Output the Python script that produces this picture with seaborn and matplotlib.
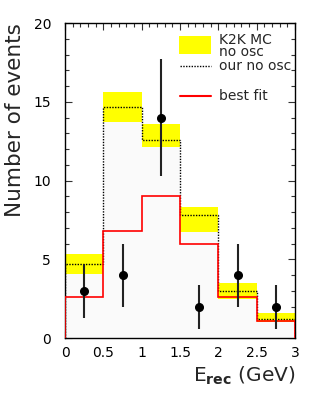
import numpy as np
import pandas as pd
import matplotlib
matplotlib.use("Agg")
import matplotlib.pyplot as plt
import seaborn as sns
from matplotlib.patches import Rectangle
from matplotlib.ticker import MultipleLocator

# ---- data ----
bin_edges = [0.0, 0.5, 1.0, 1.5, 2.0, 2.5, 3.0]
k2k_low = [4.08, 13.73, 12.13, 6.75, 2.50, 1.04]
k2k_high = [5.31, 15.60, 13.60, 8.32, 3.51, 1.59]
our_no_osc = [4.70, 14.65, 12.60, 7.81, 3.00, 1.23]
best_fit = [2.58, 6.79, 9.03, 5.99, 2.58, 1.06]
data_counts = [3, 4, 14, 2, 4, 2]
err_low = [1.73, 2.01, 3.70, 1.41, 2.00, 1.41]
err_high = [1.68, 1.99, 3.70, 1.37, 2.00, 1.37]
x_ticks = [0, 0.5, 1, 1.5, 2, 2.5, 3]
x_tick_labels = ["0", "0.5", "1", "1.5", "2", "2.5", "3"]
y_ticks = [0, 5, 10, 15, 20]

sns.set_theme(style="ticks")
plt.rcParams["font.family"] = ["DejaVu Sans"]
plt.rcParams["mathtext.fontset"] = "dejavusans"

edges = np.array(bin_edges)
centers = (edges[:-1] + edges[1:]) / 2
widths = np.diff(edges)
df = pd.DataFrame({"E": centers, "ours": our_no_osc})

fig = plt.figure(figsize=(3.19, 3.94), dpi=100)
ax = fig.add_axes([0.2038, 0.1421, 0.7210, 0.7995])

# very light grey fill under our no-osc histogram
sns.histplot(data=df, x="E", weights="ours", binwidth=0.5,
             binrange=(bin_edges[0], bin_edges[-1]), element="step",
             fill=True, color="#fafafa", alpha=1, linewidth=0, ax=ax)

# K2K MC band
ax.bar(centers, np.array(k2k_high) - np.array(k2k_low), bottom=k2k_low,
       width=widths, color="#ffff00", linewidth=0, zorder=2)

# dotted histogram
ax.stairs(our_no_osc, edges, baseline=0, color="black", linestyle=(0, (1, 1)),
          linewidth=1.0, zorder=3)
# best fit
ax.stairs(best_fit, edges, baseline=0, color="#ff0000", linewidth=1.2, zorder=4)

# data points
ax.errorbar(centers, data_counts, yerr=[err_low, err_high], fmt="o",
            color="black", ecolor="#222222", elinewidth=1.5, markersize=5.5,
            capsize=0, zorder=5)

ax.set_xlim(0, 3)
ax.set_ylim(0, 20)
ax.set_xticks(x_ticks)
ax.set_xticklabels(x_tick_labels)
ax.set_yticks(y_ticks)
ax.xaxis.set_minor_locator(MultipleLocator(0.1))
ax.yaxis.set_minor_locator(MultipleLocator(1))
ax.tick_params(which="both", direction="in", top=True, right=True,
               colors="#333333", labelcolor="black", labelsize=10)
ax.tick_params(which="major", length=5, width=0.8)
ax.tick_params(which="minor", length=3, width=0.8)
ax.tick_params(axis="y", pad=10)
ax.tick_params(axis="x", pad=6)
for s in ax.spines.values():
    s.set_color("black")
    s.set_linewidth(1.0)
    s.set_visible(True)

ax.set_ylabel("Number of events", fontsize=15.5, loc="top", labelpad=6)
ax.set_xlabel("E$_{\\mathbf{rec}}$ (GeV)", fontsize=14.5, loc="right", labelpad=3)

# legend (drawn in axes coordinates)
T = ax.transAxes
ax.add_patch(Rectangle((0.497, 0.9006), 0.136, 0.0581, transform=T,
                       facecolor="#ffff00", edgecolor="none", zorder=6))
ax.plot([0.50, 0.633], [0.8625, 0.8625], transform=T, color="black",
        linestyle=(0, (1, 1)), linewidth=1.0, zorder=6)
ax.plot([0.50, 0.633], [0.7673, 0.7673], transform=T, color="#ff0000",
        linewidth=1.5, zorder=6)
ax.text(0.668, 0.968, "K2K MC\nno osc", transform=T, fontsize=10, va="top",
        ha="left", linespacing=0.78)
ax.text(0.668, 0.8517, "our no osc", transform=T, fontsize=10, va="baseline", ha="left")
ax.text(0.668, 0.7546, "best fit", transform=T, fontsize=10, va="baseline", ha="left")

fig.savefig("out.png", dpi=100)
